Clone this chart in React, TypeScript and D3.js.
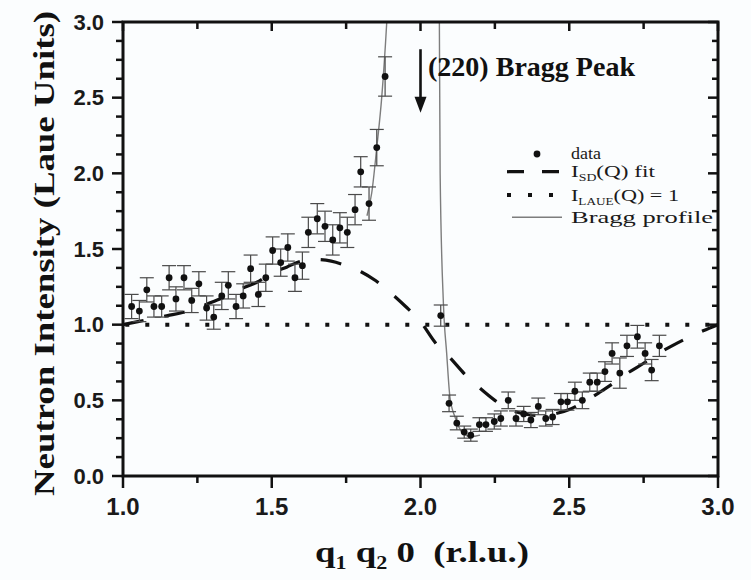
import React from "react";
import * as d3 from "d3";

// Measured diffuse intensity along (q1 q2 0)
const qValues = [
  1.029, 1.055, 1.08, 1.104, 1.13, 1.155, 1.178, 1.205, 1.231, 1.255, 1.281, 1.305,
  1.332, 1.354, 1.38, 1.404, 1.429, 1.455, 1.48, 1.503, 1.53, 1.554, 1.578, 1.603,
  1.623, 1.653, 1.679, 1.705, 1.729, 1.754, 1.78, 1.799, 1.827, 1.853, 1.881,
  2.068, 2.096, 2.122, 2.147, 2.169, 2.198, 2.22, 2.248, 2.27, 2.295, 2.321, 2.347,
  2.371, 2.396, 2.421, 2.444, 2.472, 2.494, 2.519, 2.544, 2.569, 2.594, 2.62, 2.644,
  2.67, 2.694, 2.729, 2.755, 2.777, 2.803,
];
const intensity = [
  1.12, 1.09, 1.23, 1.12, 1.12, 1.31, 1.17, 1.31, 1.16, 1.27, 1.11, 1.05,
  1.19, 1.26, 1.12, 1.19, 1.37, 1.2, 1.31, 1.49, 1.41, 1.51, 1.31, 1.39,
  1.61, 1.7, 1.65, 1.56, 1.64, 1.61, 1.76, 2.01, 1.8, 2.17, 2.64,
  1.06, 0.48, 0.35, 0.29, 0.27, 0.34, 0.34, 0.36, 0.38, 0.5, 0.38, 0.41,
  0.37, 0.46, 0.38, 0.39, 0.49, 0.49, 0.56, 0.5, 0.62, 0.62, 0.69, 0.81,
  0.68, 0.86, 0.92, 0.81, 0.7, 0.86,
];
const errors = [
  0.08, 0.07, 0.08, 0.07, 0.07, 0.08, 0.08, 0.08, 0.08, 0.08, 0.08, 0.08,
  0.09, 0.09, 0.08, 0.08, 0.09, 0.08, 0.09, 0.09, 0.09, 0.09, 0.09, 0.09,
  0.1, 0.1, 0.1, 0.1, 0.1, 0.1, 0.1, 0.1, 0.11, 0.12, 0.13,
  0.07, 0.055, 0.045, 0.04, 0.04, 0.045, 0.045, 0.05, 0.05, 0.055, 0.05, 0.05,
  0.05, 0.055, 0.05, 0.05, 0.055, 0.055, 0.06, 0.055, 0.06, 0.06, 0.065, 0.07,
  0.1, 0.07, 0.075, 0.07, 0.07, 0.07,
];

// I_SD(Q) fit
const fitQ = [
  1.0, 1.05, 1.1, 1.15, 1.2, 1.25, 1.3, 1.35, 1.4, 1.45, 1.5, 1.55, 1.6, 1.65, 1.7,
  1.75, 1.8, 1.85, 1.9, 1.95, 2.0, 2.05, 2.1, 2.15, 2.2, 2.25, 2.3, 2.35, 2.4, 2.45,
  2.5, 2.55, 2.6, 2.65, 2.7, 2.75, 2.8, 2.85, 2.9, 2.95, 3.0,
];
const fitI = [
  1.0, 1.02, 1.04, 1.06, 1.08, 1.11, 1.15, 1.19, 1.24, 1.28, 1.34, 1.38, 1.42, 1.43, 1.42,
  1.39, 1.35, 1.29, 1.21, 1.12, 1.02, 0.88, 0.78, 0.67, 0.58, 0.5, 0.44, 0.41, 0.4, 0.41,
  0.44, 0.49, 0.55, 0.615, 0.685, 0.745, 0.81, 0.865, 0.915, 0.96, 1.0,
];

// Bragg profile of the (220) reflection
const braggQ = [1.82, 1.836, 1.853, 1.87, 1.886, 1.892, 1.976, 2.063, 2.066, 2.077, 2.088, 2.099, 2.116, 2.144, 2.17, 2.2];
const braggI = [1.72, 1.87, 2.17, 2.51, 2.98, 3.2, 40, 3.2, 2.0, 1.14, 0.81, 0.52, 0.39, 0.28, 0.26, 0.27];

const laueLevel = 1;
const xMajor = [1.0, 1.5, 2.0, 2.5, 3.0];
const xMinor = [1.25, 1.75, 2.25, 2.75];
const yMajor = [0, 0.5, 1.0, 1.5, 2.0, 2.5, 3.0];
const yMinor = [0.125, 0.25, 0.375, 0.625, 0.75, 0.875, 1.125, 1.25, 1.375, 1.625, 1.75, 1.875, 2.125, 2.25, 2.375, 2.625, 2.75, 2.875];
const arrowQ = 2.0;
const arrowFrom = 2.82;
const arrowTo = 2.4;

const W = 751;
const H = 580;
const left = 123;
const right = 718;
const top = 22;
const bottom = 476;

export default function App() {
  const x = d3.scaleLinear().domain([1, 3]).range([left, right]);
  const y = d3.scaleLinear().domain([0, 3]).range([bottom, top]);

  const fitLine = d3
    .line<number>()
    .x((_, i) => x(fitQ[i]))
    .y((d) => y(d))
    .curve(d3.curveMonotoneX);
  const braggLine = d3
    .line<number>()
    .x((_, i) => x(braggQ[i]))
    .y((d) => y(d))
    .curve(d3.curveMonotoneX);

  const serif = "'Liberation Serif', 'Times New Roman', serif";
  const sans = "'Liberation Sans', Arial, sans-serif";
  const axisColor = "#111";
  const capHalf = 7;

  return (
    <svg
      width={W}
      height={H}
      viewBox={`0 0 ${W} ${H}`}
      style={{ position: "absolute", left: 0, top: 0, display: "block", background: "#fbfdfe" }}
    >
      <defs>
        <clipPath id="plotArea">
          <rect x={left} y={top} width={right - left} height={bottom - top} />
        </clipPath>
      </defs>

      {/* Laue level */}
      <line
        x1={x(1)}
        x2={x(3)}
        y1={y(laueLevel)}
        y2={y(laueLevel)}
        stroke="#111"
        strokeWidth={4}
        strokeDasharray="4 16"
        strokeDashoffset={-2.3}
      />

      <g clipPath="url(#plotArea)">
        {/* Bragg profile */}
        <path d={braggLine(braggI) || ""} fill="none" stroke="#7d7d7d" strokeWidth={1.4} />
        {/* I_SD fit */}
        <path
          d={fitLine(fitI) || ""}
          fill="none"
          stroke="#111"
          strokeWidth={3.2}
          strokeDasharray="21 21"
        />
        {/* error bars */}
        {qValues.map((q, i) => {
          const cx = x(q);
          const y1 = y(intensity[i] + errors[i]);
          const y2 = y(intensity[i] - errors[i]);
          return (
            <g key={`e${i}`} stroke="#4a4a4a" strokeWidth={1.2}>
              <line x1={cx} x2={cx} y1={y1} y2={y2} />
              <line x1={cx - capHalf} x2={cx + capHalf} y1={y1} y2={y1} />
              <line x1={cx - capHalf} x2={cx + capHalf} y1={y2} y2={y2} />
            </g>
          );
        })}
        {qValues.map((q, i) => (
          <circle key={`p${i}`} cx={x(q)} cy={y(intensity[i])} r={3.4} fill="#111" />
        ))}
      </g>

      {/* frame */}
      <rect
        x={left}
        y={top}
        width={right - left}
        height={bottom - top}
        fill="none"
        stroke={axisColor}
        strokeWidth={3}
      />

      {/* bottom and top ticks */}
      {xMajor.map((t) => (
        <g key={`xM${t}`} stroke={axisColor} strokeWidth={2.5}>
          <line x1={x(t)} x2={x(t)} y1={bottom} y2={bottom + 12} />
          <line x1={x(t)} x2={x(t)} y1={top} y2={top + 9} />
        </g>
      ))}
      {xMinor.map((t) => (
        <g key={`xm${t}`} stroke={axisColor} strokeWidth={2.5}>
          <line x1={x(t)} x2={x(t)} y1={bottom} y2={bottom + 7} />
          <line x1={x(t)} x2={x(t)} y1={top} y2={top + 7} />
        </g>
      ))}
      {/* left and right ticks */}
      {yMajor.map((t) => (
        <g key={`yM${t}`} stroke={axisColor} strokeWidth={2.5}>
          <line x1={left - 11} x2={left} y1={y(t)} y2={y(t)} />
          <line x1={right - 10} x2={right} y1={y(t)} y2={y(t)} />
        </g>
      ))}
      {yMinor.map((t) => (
        <g key={`ym${t}`} stroke={axisColor} strokeWidth={2.5}>
          <line x1={left - 7} x2={left} y1={y(t)} y2={y(t)} />
          <line x1={right - 6} x2={right} y1={y(t)} y2={y(t)} />
        </g>
      ))}

      {/* tick labels */}
      {xMajor.map((t) => (
        <text
          key={`xl${t}`}
          x={x(t)}
          y={515}
          textAnchor="middle"
          fontFamily={sans}
          fontWeight="bold"
          fontSize={24}
          fill="#1a1a1a"
        >
          {t.toFixed(1)}
        </text>
      ))}
      {yMajor.map((t) => (
        <text
          key={`yl${t}`}
          x={104}
          y={y(t) + 7.8}
          textAnchor="end"
          fontFamily={sans}
          fontWeight="bold"
          fontSize={22}
          fill="#1a1a1a"
        >
          {t.toFixed(1)}
        </text>
      ))}

      {/* axis titles */}
      <text
        transform="translate(54,253.5) rotate(-90)"
        textAnchor="middle"
        fontFamily={serif}
        fontWeight="bold"
        fontSize={30}
        textLength={485}
        lengthAdjust="spacingAndGlyphs"
        fill="#111"
      >
        Neutron Intensity (Laue Units)
      </text>
      <text
        x={315}
        y={562}
        fontFamily={serif}
        fontWeight="bold"
        fontSize={30}
        textLength={214}
        lengthAdjust="spacingAndGlyphs"
        fill="#111"
        style={{ whiteSpace: "pre" }}
      >
        q<tspan fontSize={18} dy={7}>1</tspan>
        <tspan dy={-7}> q</tspan>
        <tspan fontSize={18} dy={7}>2</tspan>
        <tspan dy={-7}>{" 0  (r.l.u.)"}</tspan>
      </text>

      {/* Bragg peak annotation */}
      <line x1={x(arrowQ)} x2={x(arrowQ)} y1={y(arrowFrom)} y2={y(arrowTo) - 12} stroke="#111" strokeWidth={2.6} />
      <path
        d={`M${x(arrowQ) - 6},${y(arrowTo) - 16} L${x(arrowQ) + 6},${y(arrowTo) - 16} L${x(arrowQ)},${y(arrowTo)} Z`}
        fill="#111"
      />
      <text
        x={428}
        y={76}
        fontFamily={serif}
        fontWeight="bold"
        fontSize={26.5}
        textLength={207}
        lengthAdjust="spacingAndGlyphs"
        fill="#111"
      >
        (220) Bragg Peak
      </text>

      {/* legend */}
      <g fontFamily={serif} fontSize={16} fill="#1a1a1a">
        <circle cx={537} cy={154} r={3.4} fill="#111" />
        <text x={571} y={158.5} textLength={30} lengthAdjust="spacingAndGlyphs">
          data
        </text>

        <line x1={507} x2={559} y1={171.7} y2={171.7} stroke="#111" strokeWidth={3.2} strokeDasharray="17 18" />
        <text x={571} y={177} textLength={84} lengthAdjust="spacingAndGlyphs">
          I<tspan fontSize={9.5} dy={3.5}>SD</tspan>
          <tspan dy={-3.5}>(Q) fit</tspan>
        </text>

        <line x1={507} x2={553} y1={195} y2={195} stroke="#111" strokeWidth={4} strokeDasharray="4 17" />
        <text x={571} y={201} textLength={108} lengthAdjust="spacingAndGlyphs">
          I<tspan fontSize={9.5} dy={3.5}>LAUE</tspan>
          <tspan dy={-3.5}>(Q) = 1</tspan>
        </text>

        <line x1={512} x2={562} y1={217.3} y2={217.3} stroke="#7d7d7d" strokeWidth={1.5} />
        <text x={571} y={223} textLength={142} lengthAdjust="spacingAndGlyphs">
          Bragg profile
        </text>
      </g>
    </svg>
  );
}
